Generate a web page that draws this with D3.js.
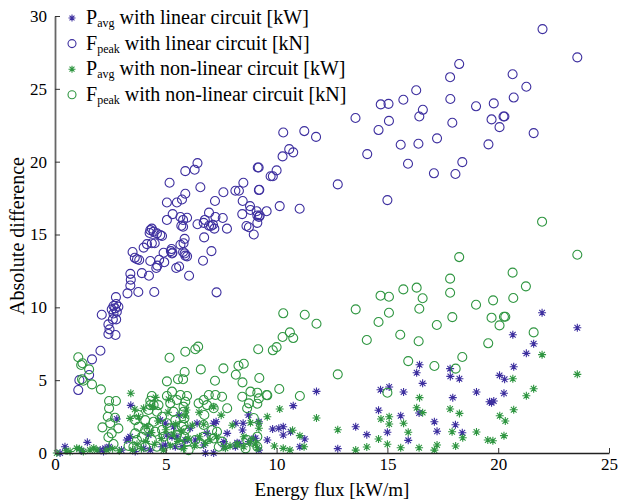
<!DOCTYPE html>
<html>
<head>
<meta charset="utf-8">
<script src="https://cdn.jsdelivr.net/npm/d3@7"></script>
<style>
  body { margin: 0; background: #fff; }
  text { font-family: "Liberation Serif", "DejaVu Serif", serif; }
</style>
</head>
<body>
<svg id="chart" width="619" height="500"></svg>
<script>
// values: [energy flux, absolute difference]
const pavgLinear = [
  [0.23,0.0],[0.45,0.43],[1.2,0.15],[1.46,0.73],[2.04,0.2],[2.19,0.1],[2.26,0.32],[2.41,0.32],[2.44,0.43],
  [2.79,2.33],[3.0,0.2],[3.24,0.89],[3.32,1.0],[3.39,1.12],[3.42,3.27],[3.62,0.1],[4.0,0.32],[4.22,1.24],
  [4.3,0.2],[4.75,2.26],[4.83,0.43],[4.98,2.04],[4.98,0.55],[5.05,1.24],[5.28,1.12],[5.35,1.8],[5.43,0.43],
  [5.5,1.12],[5.6,2.6],[5.73,0.43],[5.88,0.89],[5.96,0.89],[6.1,1.7],[6.33,0.89],[6.41,2.04],[6.71,0.55],
  [6.79,0.0],[6.86,1.35],[7.16,2.04],[7.16,0.0],[7.27,2.15],[7.62,0.78],[7.62,0.43],[7.77,1.35],
  [8.14,0.43],[8.16,2.04],[8.22,0.71],[8.3,0.66],[8.46,1.58],[8.49,2.04],[8.73,2.61],[8.75,0.78],[8.97,1.0],
  [9.05,1.01],[9.2,2.15],[9.2,0.2],[9.58,0.89],[9.82,1.65],[10.1,1.7],[10.3,1.8],[10.3,1.24],[10.63,1.46],
  [10.75,3.25],[11.05,0.43],[11.27,0.96],[11.8,4.23],[12.76,0.3],[13.57,1.8],[14.07,1.26],[14.6,2.93],
  [14.69,4.34],[15.0,1.42],[15.08,4.53],[15.6,2.56],[15.73,4.19],[15.94,0.87],[16.32,5.51],[16.43,2.75],
  [16.45,6.06],[16.59,4.78],[17.12,2.15],[17.24,1.49],[17.83,5.79],[17.84,5.26],[17.95,3.8],[18.07,1.94],
  [18.25,5.1],[18.38,1.39],[19.02,4.19],[19.61,3.52],[19.7,3.45],[19.8,3.57],[20.06,5.33],[20.26,4.1],
  [20.29,5.06],[20.66,8.12],[20.7,5.92],[21.27,6.84],[21.6,7.5],[21.98,9.63],[23.57,8.6]
];

const fpeakLinear = [
  [1.05,4.32],[1.1,5.0],[1.54,5.35],[1.67,6.43],[2.05,7.02],[2.11,9.49],
  [2.41,8.17],[2.46,8.49],[2.41,8.83],[2.73,8.1],[2.61,9.17],[2.76,9.17],[2.64,9.58],[2.79,9.7],[2.56,9.86],
  [2.71,9.93],[2.86,10.04],[2.64,10.09],[2.76,10.23],[2.75,10.7],
  [3.27,10.96],[3.76,11.05],[4.48,11.05],[7.29,11.03],
  [3.4,11.5],[3.42,11.9],[3.4,12.3],[3.92,12.35],[4.24,12.17],[4.57,12.7],[4.62,12.86],[4.93,13.1],
  [5.47,12.7],[5.6,12.8],[6.05,12.17],[6.68,13.2],[7.06,13.86],
  [3.6,13.4],[3.7,13.3],[3.8,13.25],[3.5,13.8],[4.0,14.1],[4.15,14.34],[4.3,13.18],[4.37,14.4],[4.5,14.4],
  [4.7,13.27],[4.9,13.75],[5.26,14.0],[5.3,13.75],
  [4.3,15.3],[4.37,15.4],[4.27,15.1],[4.45,15.2],[4.6,15.08],[4.75,14.96],[4.83,14.9],[5.05,16.0],
  [5.31,16.4],[5.05,17.2],[5.17,18.55],[5.5,17.2],[5.73,17.4],[5.88,17.8],[5.88,19.35],[6.3,19.45],
  [6.43,19.9],[6.56,18.24],
  [5.66,16.2],[5.78,16.0],[5.96,16.15],[5.7,15.6],[5.78,15.53],[5.66,14.3],[5.8,14.4],[5.85,14.7],
  [5.78,13.8],[5.85,13.7],[5.88,13.55],[5.96,13.5],[5.23,13.86],[5.28,13.7],
  [6.43,15.7],[6.71,15.8],[6.76,16.0],[6.95,16.5],[6.73,14.8],[6.95,15.6],[7.04,15.58],[7.13,15.67],
  [7.24,16.2],[7.19,15.4],[7.22,17.3],[7.6,17.9],[7.57,16.13],[7.76,15.4],[8.14,18.0],[8.3,18.0],
  [8.5,18.55],[8.47,17.3],[8.45,16.4],
  [8.8,16.95],[8.82,16.68],[9.1,16.6],[9.13,16.3],[9.2,16.2],[9.24,16.3],[8.64,15.58],[8.75,15.5],
  [8.97,15.0],[9.13,15.8],[9.15,19.6],[9.2,18.05],[9.55,16.6],[9.73,19.0],
  [10.3,22.0],[11.25,22.1],[11.78,21.7],[10.57,20.86],[10.75,20.64],[10.27,20.36],[9.19,19.6],[10.0,19.4],
  [9.83,19.0],[9.22,18.07],[12.76,18.44],[15.0,17.36],[10.14,16.95],[11.04,16.77],
  [22.0,29.1],[23.57,27.16],[18.24,26.7],[17.83,25.8],[20.65,26.0],[21.27,25.14],[20.7,24.4],[16.3,24.9],
  [15.72,24.25],[14.7,23.93],[15.05,23.97],[17.84,24.3],[19.0,23.8],[19.8,24.0],[16.6,23.56],[16.44,23.1],
  [15.07,22.8],[13.56,23.0],[17.93,22.67],[19.7,22.9],[20.24,23.1],[20.28,23.1],[20.06,22.37],[21.6,21.96],
  [14.6,22.17],[17.24,21.6],[15.6,21.16],[16.4,21.23],[19.56,21.19],[14.09,20.52],[15.93,19.86],
  [17.1,19.2],[18.07,19.15],[18.38,19.97]
];

const pavgNonlinear = [
  [0.08,0.0],[0.5,0.15],[0.68,0.1],[0.98,0.32],[1.1,0.3],[1.28,0.1],[1.58,0.2],[1.75,0.35],[1.89,0.2],
  [2.34,0.2],[2.6,0.3],[2.9,0.15],
  [3.42,4.1],[3.39,2.38],[3.77,2.49],[4.0,3.07],[4.54,3.82],[5.13,3.69],[5.88,2.54],[5.93,2.95],[4.15,1.8],
  [6.71,1.97],[6.52,1.12],[6.79,0.66],[7.16,3.18],[7.29,1.12],[7.69,0.32],
  [3.5,0.2],[3.7,0.6],[3.9,0.3],[4.1,0.8],[4.35,1.4],[4.5,0.6],[4.65,2.2],[4.8,1.0],[4.9,0.2],[5.0,1.6],
  [5.1,2.8],[5.2,0.5],[5.35,1.3],[5.45,2.0],[5.55,0.8],[5.7,1.5],[5.8,0.3],[6.0,1.0],[6.2,1.9],[6.3,0.5],
  [6.5,2.8],[7.0,0.9],[7.5,2.6],[7.9,0.5],[8.0,1.9],[3.6,3.0],[4.4,3.2],
  [8.22,0.62],[8.52,0.43],[8.82,0.78],[9.05,0.62],[9.13,0.36],[8.52,1.12],[8.22,0.55],[9.2,2.04],[9.2,1.7],
  [8.82,2.08],[9.9,0.48],[10.3,0.32],[10.6,0.2],[10.72,1.56],[11.05,1.19],[11.24,0.43],[9.58,2.49],
  [10.14,3.02],[11.8,2.4],[12.76,1.6],[13.57,0.2],[14.07,0.41],[14.6,0.96],[15.0,0.6],[15.6,0.36],
  [14.71,2.33],[15.08,2.49],[15.08,1.99],[15.73,2.04],[15.94,1.42],[16.45,3.8],[16.32,3.11],[16.59,2.77],
  [16.43,0.36],[17.24,0.55],[17.12,0.2],[17.83,3.02],[18.25,2.72],[17.92,1.46],[18.4,1.05],[18.08,0.48],
  [19.02,1.44],[19.53,0.89],[19.76,0.84],[20.26,1.19],[20.07,2.56],[20.32,2.2],[20.7,2.97],[21.27,3.93],
  [21.6,4.41],[20.66,5.1],[21.98,6.75],[23.57,5.4]
];

const fpeakNonlinear = [
  [1.05,6.57],[1.18,6.04],[1.24,6.16],[1.54,5.74],[1.28,4.96],[1.22,5.06],[1.67,4.71],[2.07,4.37],
  [5.17,6.54],[5.88,6.95],[6.33,7.12],[6.46,7.3],[6.58,5.74],[5.85,5.56],[5.55,5.06],[5.78,5.06],[5.05,4.92],
  [7.6,5.81],[7.22,4.96],[8.28,5.99],[8.52,6.13],[8.16,5.37],[8.46,4.85],[9.22,5.15],[9.17,7.12],[9.83,7.05],
  [10.0,7.27],[10.27,7.96],[10.6,8.28],[10.75,7.89],[10.3,9.59],[11.27,9.49],[11.8,8.87],[12.76,5.4],
  [10.12,4.39],[11.05,3.91],[9.58,3.96],
  [21.98,15.88],[23.57,13.61],[18.24,13.45],[20.65,12.38],[17.83,11.97],[21.25,11.44],[15.72,11.23],
  [16.32,11.35],[16.59,10.62],[14.69,10.8],[15.07,10.73],[17.83,11.0],[19.77,10.48],[20.68,10.64],[19.0,10.18],
  [16.44,9.9],[15.07,9.63],[14.6,8.99],[13.57,9.86],[17.93,9.33],[19.7,9.29],[20.26,9.35],[20.32,9.35],
  [20.06,8.76],[17.23,8.79],[15.58,8.12],[14.07,7.76],[16.41,7.67],[21.6,8.28],[19.55,7.53],[18.38,6.59],
  [18.08,5.79],[17.12,5.97],[15.94,6.31],[15.0,4.14],
  [2.44,3.57],[2.75,3.57],[2.44,3.07],[2.38,2.49],[2.71,2.42],[2.49,2.04],[2.86,1.69],[2.14,1.76],[2.56,1.35],
  [2.41,1.08],[2.64,0.62],[3.32,0.48],[3.54,0.43],[3.7,0.89],[3.62,1.35],[3.92,1.12],[4.07,1.58],[3.77,1.8],
  [3.62,2.26],[3.77,2.61],[4.07,2.26],[4.22,2.95],[4.45,3.29],[4.67,3.29],[4.3,3.29],[4.6,2.83],[4.83,2.49],
  [4.45,2.15],[4.22,1.69],[4.52,1.46],[4.83,1.58],[5.05,2.04],[4.9,1.12],[4.37,0.89],[4.07,0.43],[4.6,0.43],
  [5.28,4.21],[5.5,3.64],[5.2,3.41],[5.35,2.83],[5.43,2.26],[5.2,1.69],[5.5,1.24],[5.28,0.89],[5.66,0.55],
  [5.73,1.8],[5.8,3.18],[5.05,3.91],[4.37,3.91],[4.3,3.59],
  [5.66,3.98],[5.96,3.91],[5.88,3.52],[6.48,3.41],[6.71,3.64],[6.94,3.98],[7.24,3.98],[7.54,3.86],[6.86,3.29],
  [7.16,3.07],[7.77,3.07],[8.45,3.86],[8.82,4.21],[9.13,4.14],[9.2,3.75],[8.75,3.41],[8.67,3.07],[9.13,3.38],
  [8.97,2.4],[9.55,3.98],[5.8,2.83],[5.84,2.38],[5.8,1.92],[5.88,1.58],[5.84,1.12],[5.96,0.78],[6.03,0.2],
  [6.74,2.61],[6.71,1.92],[7.09,1.58],[7.31,1.46],[6.71,1.12],[6.33,0.89],[6.56,0.66],[7.16,1.0],[7.54,0.78],
  [7.39,0.43],[8.67,0.89],[8.9,0.78],[9.13,0.43],[9.13,1.12],[8.6,0.32]
];

const xTicks = [0, 5, 10, 15, 20, 25];
const yTicks = [0, 5, 10, 15, 20, 25, 30];

const blue = "#3d2f9f";
const green = "#2f9641";
const serif = "'Liberation Serif', 'DejaVu Serif', serif";

const series = [
  {data: pavgLinear, marker: "star", color: blue, main: "P", sub: "avg", rest: " with linear circuit [kW]"},
  {data: fpeakLinear, marker: "circle", color: blue, main: "F", sub: "peak", rest: " with linear circuit [kN]"},
  {data: pavgNonlinear, marker: "star", color: green, main: "P", sub: "avg", rest: " with non-linear circuit [kW]"},
  {data: fpeakNonlinear, marker: "circle", color: green, main: "F", sub: "peak", rest: " with non-linear circuit [kN]"}
];

const svg = d3.select("#chart");

const x = d3.scaleLinear().domain([0, 25]).range([55, 609]);
const y = d3.scaleLinear().domain([0, 30]).range([453, 16]);

// star marker like matlab '*'
const starPath = (r) => {
  const d = r * Math.SQRT1_2;
  return `M${-r},0L${r},0M0,${-r}L0,${r}M${-d},${-d}L${d},${d}M${-d},${d}L${d},${-d}`;
};

function drawMarker(g, s, size) {
  if (s.marker === "circle") {
    g.append("circle")
      .attr("r", size)
      .attr("fill", "none")
      .attr("stroke", s.color)
      .attr("stroke-width", 1.1);
  } else {
    g.append("path")
      .attr("d", starPath(size))
      .attr("fill", "none")
      .attr("stroke", s.color)
      .attr("stroke-width", 1.1);
  }
}

series.forEach(s => {
  const pts = svg.append("g")
    .selectAll("g")
    .data(s.data)
    .join("g")
    .attr("transform", d => `translate(${x(d[0])},${y(d[1])})`);
  pts.each(function() { drawMarker(d3.select(this), s, s.marker === "circle" ? 4.5 : 4); });
});

// axes, ticks pointing inward
const xAxis = svg.append("g")
  .attr("transform", `translate(0,${y(0)})`)
  .call(d3.axisBottom(x).tickValues(xTicks).tickSizeInner(-5).tickSizeOuter(0).tickPadding(5));
const yAxis = svg.append("g")
  .attr("transform", `translate(${x(0)},0)`)
  .call(d3.axisLeft(y).tickValues(yTicks).tickSizeInner(-5).tickSizeOuter(0).tickPadding(8));

[xAxis, yAxis].forEach(a => {
  a.attr("font-family", serif);
  a.selectAll(".tick line").attr("stroke", "#333");
  a.selectAll(".tick text")
    .attr("fill", "#000")
    .attr("font-family", serif)
    .attr("font-size", 17);
});
xAxis.select(".domain").attr("stroke", "#222").attr("stroke-width", 1.5);
yAxis.select(".domain").attr("stroke", "#666").attr("stroke-width", 1.8);

svg.append("text")
  .attr("x", 332)
  .attr("y", 496)
  .attr("text-anchor", "middle")
  .attr("font-family", serif)
  .attr("font-size", 19)
  .text("Energy flux [kW/m]");

svg.append("text")
  .attr("transform", "translate(24,236) rotate(-90)")
  .attr("text-anchor", "middle")
  .attr("font-family", serif)
  .attr("font-size", 20)
  .text("Absolute difference");

// legend
const legend = svg.append("g");
series.forEach((s, i) => {
  const row = legend.append("g").attr("transform", `translate(72,${18 + i * 25.6})`);
  drawMarker(row, s, s.marker === "circle" ? 4 : 3.5);
  const t = row.append("text")
    .attr("x", 14)
    .attr("y", 6)
    .attr("font-family", serif)
    .attr("font-size", 20);
  t.append("tspan").text(s.main);
  t.append("tspan").attr("dy", 3).attr("font-size", 12).text(s.sub);
  t.append("tspan").attr("dy", -3).text(s.rest);
});
</script>
</body>
</html>
